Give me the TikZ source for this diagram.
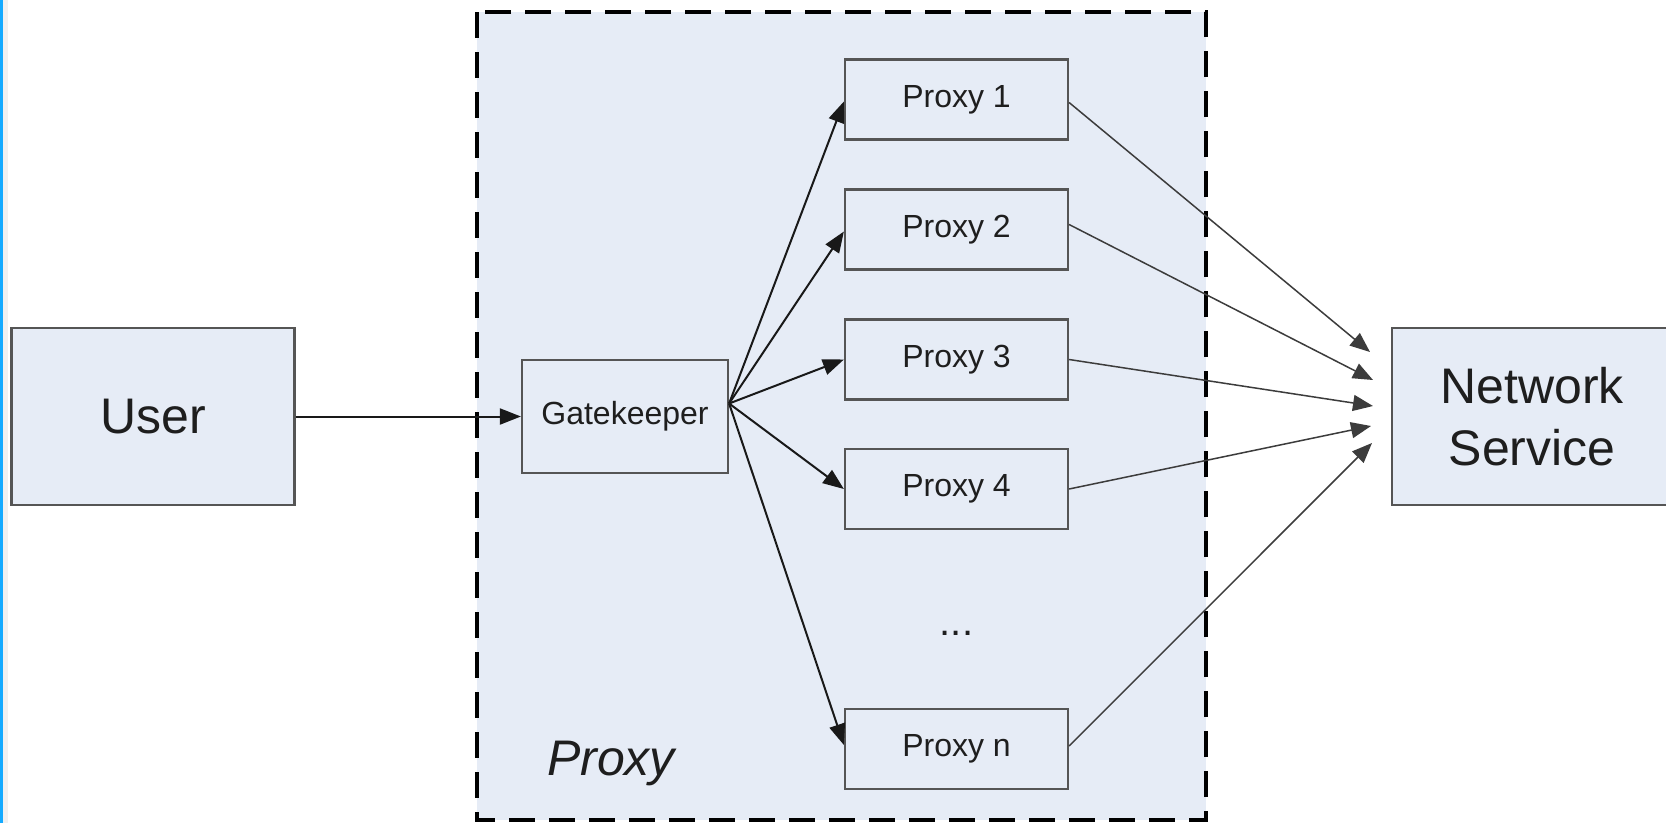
\documentclass[tikz,border=0pt]{standalone}
\usepackage{fontspec}
\setmainfont{Liberation Sans}
\usetikzlibrary{arrows.meta}
\definecolor{boxfill}{RGB}{230,236,246}
\definecolor{boxline}{RGB}{85,85,85}
\definecolor{txt}{RGB}{30,30,30}
\definecolor{edgeblue}{RGB}{20,170,255}
\begin{document}
\begin{tikzpicture}[x=1pt,y=-1pt,
  box/.style={draw=boxline,line width=2.2pt,fill=boxfill,inner sep=0pt,align=center,text=txt},
  bigtxt/.style={font=\fontsize{50}{62}\selectfont},
  smalltxt/.style={font=\fontsize{32}{36}\selectfont},
  proxybox/.style={box,smalltxt,minimum width=223pt,minimum height=80pt},
  arr/.style={line width=2pt,draw={rgb,255:red,25;green,25;blue,25},-{Triangle[length=21pt,width=16pt]}},
  arrthin/.style={line width=1.5pt,draw={rgb,255:red,60;green,60;blue,60},-{Triangle[length=20pt,width=16pt]}}
]
\useasboundingbox (0,0) rectangle (1666,823);
\fill[white] (0,0) rectangle (1666,823);
\fill[gray!12] (2.5,0) rectangle (8,823);
\fill[edgeblue] (0,0) rectangle (2.5,823);

% container
\draw[fill=boxfill,line width=3.5pt,dash pattern=on 26pt off 14pt] (477,12) rectangle (1206,820);
\node[font=\itshape\fontsize{50}{60}\selectfont,text=txt] (plabel) at (611,763) {Proxy};

% nodes
\node[box,bigtxt,minimum width=283pt,minimum height=177pt] (user) at (153,416.5) {User};
\node[box,font=\fontsize{32}{38}\selectfont,minimum width=206pt,minimum height=113pt] (gk) at (625,416.5) {Gatekeeper};
\node[proxybox] (p1) at (956.5,99.5) {Proxy 1};
\node[proxybox] (p2) at (956.5,229.5) {Proxy 2};
\node[proxybox] (p3) at (956.5,359.5) {Proxy 3};
\node[proxybox] (p4) at (956.5,489) {Proxy 4};
\node[font=\fontsize{40}{44}\selectfont,text=txt] (dots) at (956.5,633) {...};
\node[proxybox] (pn) at (956.5,749) {Proxy n};
\node[box,bigtxt,minimum width=280pt,minimum height=177pt] (ns) at (1532,416.5) {Network\\Service};

% connectors
\coordinate (gkout) at ([yshift=13pt]gk.east);
\coordinate (n1) at (1370,352);
\coordinate (n2) at (1373,380);
\coordinate (n3) at (1373,406);
\coordinate (n4) at (1371,426);
\coordinate (n5) at (1372,443);

\draw[arr] (user.east) -- (gk.west);
\draw[arr] (gkout) -- ([yshift=-2pt]p1.west);
\draw[arr] (gkout) -- ([yshift=-2pt]p2.west);
\draw[arr] (gkout) -- (p3.west);
\draw[arr] (gkout) -- (p4.west);
\draw[arr] (gkout) -- ([yshift=4pt]pn.west);

\draw[arrthin] ([yshift=-3pt]p1.east) -- (n1);
\draw[arrthin] ([yshift=5pt]p2.east) -- (n2);
\draw[arrthin] (p3.east) -- (n3);
\draw[arrthin] (p4.east) -- (n4);
\draw[arrthin] ([yshift=3pt]pn.east) -- (n5);
\end{tikzpicture}
\end{document}
